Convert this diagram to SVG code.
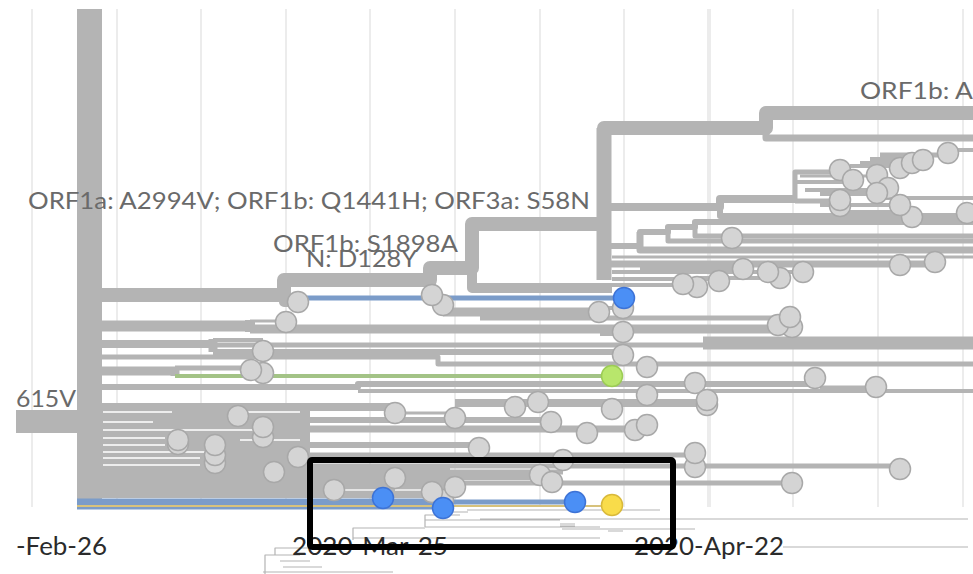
<svg xmlns="http://www.w3.org/2000/svg" width="973" height="574" viewBox="0 0 973 574">
<style>
.g{stroke:#ececec;stroke-width:2;fill:none}
#connectors path{stroke:#b4b4b4;fill:none;stroke-linejoin:round}
#connectors path.blue{stroke:#7b9cc9}
#connectors path.green{stroke:#a3c386}
#connectors path.yel{stroke:#d7c27c}
#connectors path.wh{stroke:#ffffff;stroke-width:1.5}
#connectors path.wl{stroke:#e4e4e4;stroke-width:2}
.fd{stroke:#cdcdcd;stroke-width:1.2;fill:none}
.t{fill:#d4d4d4;stroke:#a8a8a8;stroke-width:1.5}
.tb{fill:#4b8ff5;stroke:#3d73d6;stroke-width:1.5}
.tg{fill:#b8e66c;stroke:#9ccc55;stroke-width:1.5}
.ty{fill:#f9dc4a;stroke:#d9b93a;stroke-width:1.5}
.lab{font-family:Lato,'Liberation Sans',sans-serif;font-size:23.5px;fill:#6a6a6a}
.ax{font-family:Lato,'Liberation Sans',sans-serif;font-size:25px;fill:#2b2b2b}
</style>
<rect width="973" height="574" fill="#ffffff"/>
<g id="grid">
<path class="g" d="M32,9V507M117,9V507M201,9V507M286,9V507M370,9V507M455,9V507M540,9V507M624,9V507M793,9V507M878,9V507M963,9V507"/>
<path class="g" style="stroke-width:4" d="M709,9V507"/>
</g>
<g id="connectors">
<rect x="77" y="9" width="25" height="492" fill="#b4b4b4"/>
<rect x="16" y="410" width="61" height="23" fill="#b4b4b4"/>
<path d="M95,295 H284 V280 H430 V268 H472 V224 H604 V128 H766 V113 H973" stroke-width="14"/>
<path d="M284,280 V302 H298" stroke-width="10"/>
<path d="M430,268 V294" stroke-width="12"/>
<path d="M472,224 V288 H612" stroke-width="10"/>
<path d="M604,128 V280" stroke-width="15"/>
<path d="M766,113 V138 H973" stroke-width="7"/>
<path d="M604,207 H720 V199 H795" stroke-width="8"/>
<path d="M720,207 V216 H962" stroke-width="6"/>
<path d="M795,199 V172 H840" stroke-width="5"/>
<path d="M795,182 H853" stroke-width="4"/>
<path d="M800,176 H877" stroke-width="3"/>
<path d="M805,190 H888" stroke-width="4"/>
<path d="M850,166 H900" stroke-width="4"/>
<path d="M860,163 H912" stroke-width="4"/>
<path d="M870,159 H923" stroke-width="4"/>
<path d="M880,155 H948" stroke-width="5"/>
<path d="M948,150 H973" stroke-width="4"/>
<path d="M795,201 H840" stroke-width="5"/>
<path d="M820,194 H877" stroke-width="4"/>
<path d="M820,205 H900" stroke-width="4"/>
<path d="M840,212 H912" stroke-width="4"/>
<path d="M880,198 H973" stroke-width="4"/>
<path d="M604,246 H640 V232 H668 V227 H695 V222 H973" stroke-width="6"/>
<path d="M695,222 V236 H973" stroke-width="5"/>
<path d="M668,227 V241 H973" stroke-width="5"/>
<path d="M640,232 V250 H973" stroke-width="7"/>
<path d="M612,257 H973" stroke-width="3"/>
<path d="M604,264 H935" stroke-width="7"/>
<path d="M612,272 H683 M612,279 H719 M612,285 H697 M640,269 H743 M660,272 H768 M700,278 H780 M720,272 H803" stroke-width="4"/>
<path d="M443,312 H600" stroke-width="9"/>
<path d="M600,308 H623" stroke-width="4"/>
<path d="M102,326 H250" stroke-width="11"/>
<path d="M250,320 V332" stroke-width="10"/>
<path d="M250,321 H286" stroke-width="3"/>
<path d="M250,329 H790" stroke-width="9"/>
<path d="M480,318 H790" stroke-width="5"/>
<path d="M600,334 H623" stroke-width="4"/>
<path d="M102,344 H213" stroke-width="8"/>
<path d="M213,339 V352" stroke-width="9"/>
<path d="M213,340 H263" stroke-width="4"/>
<path d="M213,345 H703" stroke-width="5"/>
<path d="M703,343 H973" stroke-width="13"/>
<path d="M213,352 H623" stroke-width="6"/>
<path d="M102,357 H438 V364 H973" stroke-width="5"/>
<path d="M102,371 H175" stroke-width="9"/>
<path d="M175,367 V376" stroke-width="9"/>
<path d="M175,368 H263" stroke-width="5"/>
<path class="green" d="M175,376 H612" stroke-width="4"/>
<path d="M102,387 H358 V384 H815" stroke-width="6"/>
<path d="M358,391 H973" stroke-width="4"/>
<path d="M820,389 H876" stroke-width="7"/>
<rect x="102" y="403" width="208" height="95" fill="#b4b4b4"/>
<rect x="300" y="468" width="150" height="30" fill="#b4b4b4"/>
<path d="M102,407 H395" stroke-width="8"/>
<path d="M395,413 H455" stroke-width="3"/>
<path d="M455,403 H707" stroke-width="8"/>
<path d="M300,420 H551" stroke-width="6"/>
<path d="M300,429 H650" stroke-width="7"/>
<path d="M300,445 H479" stroke-width="6"/>
<path d="M300,455 H695" stroke-width="5"/>
<path d="M300,466 H900" stroke-width="5"/>
<path d="M300,472 H563" stroke-width="5"/>
<path d="M300,477 H552" stroke-width="6"/>
<path d="M300,483 H792" stroke-width="5"/>
<path class="wh" d="M103,412 H172 M103,422 H153 M103,430 H255 M103,438 H165 M103,445 H165 M103,452 H210 M103,458 H200 M103,465 H200 M230,412 H300 M240,440 H300"/>
<path class="wl" d="M334,490 H383 M395,490 H425"/>
<path class="blue" d="M300,298 H624" stroke-width="5"/>
<path class="blue" d="M77,504 H443" stroke-width="11"/>
<path class="blue" d="M443,502 H575" stroke-width="5"/>
<path class="yel" d="M77,506 H612" stroke-width="2"/>
<path class="fd" d="M443,512 H468 M467,510 H660 M425,527 V515 H460 M425,520 H560 M425,527 H600 M353,540 V528 H425 M353,538 H600 M560,524 H575 M560,526 H575 M562,529 H695 M608,531 H623 M480,519 H968 M783,547 H968 M275,555 V548 H320 M265,574 V555 H300 M280,561 H310 M283,567 H322 M263,572 H393"/>
</g>
<g id="tips">
<circle class="t" cx="840" cy="170" r="10.5"/>
<circle class="t" cx="853" cy="180" r="10.5"/>
<circle class="t" cx="877" cy="175" r="10.5"/>
<circle class="t" cx="888" cy="188" r="10.5"/>
<circle class="t" cx="900" cy="168" r="10.5"/>
<circle class="t" cx="912" cy="163" r="10.5"/>
<circle class="t" cx="923" cy="160" r="10.5"/>
<circle class="t" cx="948" cy="153" r="10.5"/>
<circle class="t" cx="840" cy="206" r="10.5"/>
<circle class="t" cx="840" cy="200" r="10.5"/>
<circle class="t" cx="877" cy="193" r="10.5"/>
<circle class="t" cx="912" cy="217" r="10.5"/>
<circle class="t" cx="900" cy="205" r="10.5"/>
<circle class="t" cx="967" cy="213" r="10.5"/>
<circle class="t" cx="732" cy="238" r="10.5"/>
<circle class="t" cx="900" cy="265" r="10.5"/>
<circle class="t" cx="935" cy="262" r="10.5"/>
<circle class="t" cx="697" cy="287" r="10.5"/>
<circle class="t" cx="683" cy="284" r="10.5"/>
<circle class="t" cx="719" cy="281" r="10.5"/>
<circle class="t" cx="743" cy="269" r="10.5"/>
<circle class="t" cx="780" cy="278" r="10.5"/>
<circle class="t" cx="768" cy="272" r="10.5"/>
<circle class="t" cx="803" cy="272" r="10.5"/>
<circle class="t" cx="623" cy="308" r="10.5"/>
<circle class="t" cx="599" cy="312" r="10.5"/>
<circle class="t" cx="792" cy="327" r="10.5"/>
<circle class="t" cx="778" cy="325" r="10.5"/>
<circle class="t" cx="790" cy="317" r="10.5"/>
<circle class="t" cx="623" cy="332" r="10.5"/>
<circle class="t" cx="623" cy="355" r="10.5"/>
<circle class="t" cx="647" cy="367" r="10.5"/>
<circle class="t" cx="695" cy="383" r="10.5"/>
<circle class="t" cx="815" cy="378" r="10.5"/>
<circle class="t" cx="876" cy="387" r="10.5"/>
<circle class="t" cx="647" cy="395" r="10.5"/>
<circle class="t" cx="707" cy="405" r="10.5"/>
<circle class="t" cx="707" cy="400" r="10.5"/>
<circle class="t" cx="612" cy="409" r="10.5"/>
<circle class="t" cx="515" cy="407" r="10.5"/>
<circle class="t" cx="538" cy="402" r="10.5"/>
<circle class="t" cx="551" cy="422" r="10.5"/>
<circle class="t" cx="587" cy="433" r="10.5"/>
<circle class="t" cx="635" cy="430" r="10.5"/>
<circle class="t" cx="647" cy="425" r="10.5"/>
<circle class="t" cx="695" cy="467" r="10.5"/>
<circle class="t" cx="695" cy="453" r="10.5"/>
<circle class="t" cx="900" cy="469" r="10.5"/>
<circle class="t" cx="792" cy="483" r="10.5"/>
<circle class="t" cx="563" cy="460" r="10.5"/>
<circle class="t" cx="540" cy="475" r="10.5"/>
<circle class="t" cx="552" cy="482" r="10.5"/>
<circle class="t" cx="298" cy="302" r="10.5"/>
<circle class="t" cx="443" cy="305" r="10.5"/>
<circle class="t" cx="432" cy="295" r="10.5"/>
<circle class="t" cx="286" cy="322" r="10.5"/>
<circle class="t" cx="263" cy="351" r="10.5"/>
<circle class="t" cx="263" cy="373" r="10.5"/>
<circle class="t" cx="251" cy="370" r="10.5"/>
<circle class="t" cx="238" cy="416" r="10.5"/>
<circle class="t" cx="263" cy="437" r="10.5"/>
<circle class="t" cx="263" cy="427" r="10.5"/>
<circle class="t" cx="178" cy="444" r="10.5"/>
<circle class="t" cx="178" cy="440" r="10.5"/>
<circle class="t" cx="215" cy="463" r="10.5"/>
<circle class="t" cx="215" cy="455" r="10.5"/>
<circle class="t" cx="215" cy="445" r="10.5"/>
<circle class="t" cx="298" cy="457" r="10.5"/>
<circle class="t" cx="274" cy="472" r="10.5"/>
<circle class="t" cx="395" cy="413" r="10.5"/>
<circle class="t" cx="455" cy="418" r="10.5"/>
<circle class="t" cx="479" cy="448" r="10.5"/>
<circle class="t" cx="334" cy="490" r="10.5"/>
<circle class="t" cx="395" cy="478" r="10.5"/>
<circle class="t" cx="443" cy="500" r="10.5"/>
<circle class="t" cx="432" cy="492" r="10.5"/>
<circle class="t" cx="455" cy="487" r="10.5"/>
<circle class="tb" cx="624" cy="298" r="10.5"/>
<circle class="tg" cx="612" cy="376" r="10.5"/>
<circle class="tb" cx="383" cy="498" r="10.5"/>
<circle class="tb" cx="443" cy="508" r="10.5"/>
<circle class="tb" cx="575" cy="502" r="10.5"/>
<circle class="ty" cx="612" cy="505" r="10.5"/>
</g>
<g id="labels">
<text class="lab" x="28" y="209" textLength="562" lengthAdjust="spacingAndGlyphs">ORF1a: A2994V; ORF1b: Q1441H; ORF3a: S58N</text>
<text class="lab" x="273" y="252" textLength="185" lengthAdjust="spacingAndGlyphs">ORF1b: S1898A</text>
<text class="lab" x="306" y="267" textLength="111" lengthAdjust="spacingAndGlyphs">N: D128Y</text>
<text class="lab" x="860" y="99" textLength="113" lengthAdjust="spacingAndGlyphs">ORF1b: A</text>
<text class="lab" x="16" y="407" textLength="60" lengthAdjust="spacingAndGlyphs">615V</text>
<text class="ax" x="16" y="555" textLength="91" lengthAdjust="spacingAndGlyphs">-Feb-26</text>
<text class="ax" x="292" y="555" textLength="156" lengthAdjust="spacingAndGlyphs">2020-Mar-25</text>
<text class="ax" x="634" y="555" textLength="150" lengthAdjust="spacingAndGlyphs">2020-Apr-22</text>
</g>
<rect id="highlight" x="310" y="460" width="363" height="87" rx="2" fill="none" stroke="#000000" stroke-width="6"/>
</svg>
